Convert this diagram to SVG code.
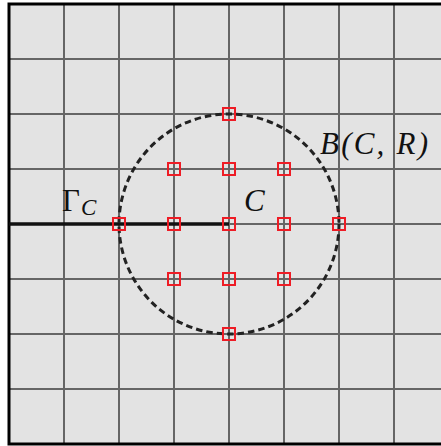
<svg xmlns="http://www.w3.org/2000/svg" width="441" height="446" viewBox="0 0 441 446">
<style>
.grid{stroke:#666;stroke-width:2;fill:none}
.pt{fill:none;stroke:#ee1c25;stroke-width:2}
.lbl{font-family:"Liberation Serif",serif;font-style:italic;font-size:31px;fill:#111}
</style>
<defs>
<rect id="sq" x="-6" y="-6" width="12" height="12" class="pt"/>
</defs>
<rect x="0" y="0" width="441" height="446" fill="#fff"/>
<rect x="9" y="4" width="440" height="440" fill="#e3e3e3"/>
<g id="grid" class="grid">
<path d="M64 4V444M119 4V444M174 4V444M229 4V444M284 4V444M339 4V444M394 4V444"/>
<path d="M9 59H449M9 114H449M9 169H449M9 224H449M9 279H449M9 334H449M9 389H449"/>
</g>
<rect x="9" y="4" width="440" height="440" fill="none" stroke="#000" stroke-width="3"/>
<g id="connectors">
<line x1="9" y1="224" x2="229" y2="224" stroke="#111" stroke-width="3.5"/>
<circle cx="229" cy="224" r="110" fill="none" stroke="#222" stroke-width="3" stroke-dasharray="6.5 4"/>
</g>
<g id="points">
<use href="#sq" x="229" y="114"/>
<use href="#sq" x="174" y="169"/><use href="#sq" x="229" y="169"/><use href="#sq" x="284" y="169"/>
<use href="#sq" x="119" y="224"/><use href="#sq" x="174" y="224"/><use href="#sq" x="229" y="224"/><use href="#sq" x="284" y="224"/><use href="#sq" x="339" y="224"/>
<use href="#sq" x="174" y="279"/><use href="#sq" x="229" y="279"/><use href="#sq" x="284" y="279"/>
<use href="#sq" x="229" y="334"/>
</g>
<g id="label-gamma"><text x="62" y="211" class="lbl" style="font-style:normal">Γ<tspan x="81" y="215" style="font-style:italic;font-size:23px">C</tspan></text></g>
<g id="label-c"><text x="244" y="211" class="lbl">C</text></g>
<g id="label-b"><text x="320" y="154" class="lbl" textLength="108" lengthAdjust="spacing">B(C, R)</text></g>
</svg>
